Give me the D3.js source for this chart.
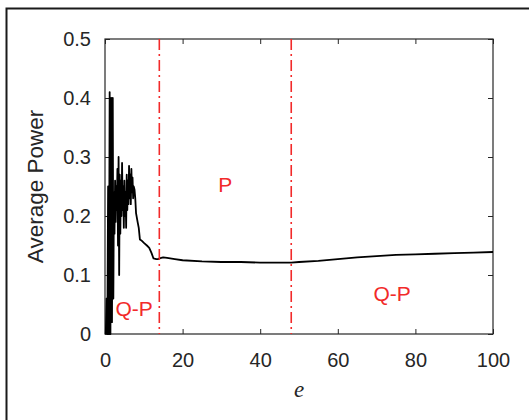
<!DOCTYPE html>
<html>
<head>
<meta charset="utf-8">
<script src="https://cdn.jsdelivr.net/npm/d3@7"></script>
<style>
  html, body { margin: 0; padding: 0; background: #fff; }
  svg { display: block; }
</style>
</head>
<body>
<svg id="chart" width="529" height="420"></svg>
<script>
// ---- data ----
const eValues = [
  0.2, 0.4, 0.6, 0.8, 1.0, 1.2, 1.4, 1.6, 1.8, 2.0, 2.15, 2.3, 2.45, 2.6, 2.75, 2.9, 3.05,
  3.2, 3.35, 3.5, 3.65, 3.8, 3.95, 4.1, 4.25, 4.4, 4.55, 4.7, 4.85, 5.0, 5.15, 5.3, 5.45,
  5.6, 5.75, 5.9, 6.05, 6.2, 6.35, 6.5, 6.65, 6.8, 6.95, 7.1, 7.25, 7.4, 7.6, 7.8,
  8.0, 8.4, 8.7, 9.0, 9.5, 10.1, 10.8, 11.4, 12.0, 12.5, 13.2, 13.8,
  14, 15, 16, 18, 20, 25, 30, 35, 40, 45, 48, 50, 55, 60, 65, 70, 75, 80, 85, 90, 95, 100
];
const powerValues = [
  0.0, 0.06, 0.0, 0.25, 0.0, 0.41, 0.0, 0.40, 0.02, 0.40, 0.06, 0.24, 0.17, 0.26, 0.19, 0.25, 0.21,
  0.28, 0.15, 0.30, 0.10, 0.27, 0.17, 0.26, 0.20, 0.29, 0.21, 0.25, 0.18, 0.26, 0.20, 0.24, 0.18,
  0.27, 0.21, 0.26, 0.22, 0.285, 0.23, 0.27, 0.22, 0.28, 0.24, 0.265, 0.23, 0.25, 0.245, 0.23,
  0.205, 0.19, 0.18, 0.16, 0.158, 0.154, 0.15, 0.146, 0.137, 0.128, 0.127, 0.127,
  0.128, 0.130, 0.129, 0.127, 0.125, 0.123, 0.122, 0.122, 0.121, 0.121, 0.121, 0.122, 0.124,
  0.127, 0.130, 0.132, 0.134, 0.135, 0.136, 0.137, 0.138, 0.139
];
const xTicks = [0, 20, 40, 60, 80, 100];
const yTicks = [0, 0.1, 0.2, 0.3, 0.4, 0.5];
const boundaries = [14, 48];
const regionLabels = [
  { text: "Q-P", e: 7.5, p: 0.04 },
  { text: "P", e: 31, p: 0.25 },
  { text: "Q-P", e: 74, p: 0.065 }
];

// ---- layout ----
const svg = d3.select("#chart");
const margin = { left: 105, top: 39, right: 36, bottom: 86 };
const W = 529, H = 420;
const iw = W - margin.left - margin.right;
const ih = H - margin.top - margin.bottom;

// outer frame
svg.append("rect")
  .attr("x", 6.5).attr("y", 8.5)
  .attr("width", 540).attr("height", 440)
  .attr("fill", "none").attr("stroke", "#1a1a1a").attr("stroke-width", 2);

const g = svg.append("g").attr("transform", `translate(${margin.left},${margin.top})`);

const x = d3.scaleLinear().domain([0, 100]).range([0, iw]);
const y = d3.scaleLinear().domain([0, 0.5]).range([ih, 0]);

const axisColor = "#262626";
const tickFont = "'Liberation Sans', Arial, Helvetica, sans-serif";

// axes with inward ticks
const xAxis = g.append("g").attr("transform", `translate(0,${ih})`)
  .call(d3.axisBottom(x).tickValues(xTicks).tickFormat(d3.format("d"))
    .tickSizeInner(-5).tickSizeOuter(0).tickPadding(19));
const xAxisTop = g.append("g")
  .call(d3.axisTop(x).tickValues(xTicks).tickFormat("")
    .tickSizeInner(-5).tickSizeOuter(0));
const yAxis = g.append("g")
  .call(d3.axisLeft(y).tickValues(yTicks).tickFormat(d => d === 0 ? "0" : d3.format(".1f")(d))
    .tickSizeInner(-5).tickSizeOuter(0).tickPadding(14));
const yAxisRight = g.append("g").attr("transform", `translate(${iw},0)`)
  .call(d3.axisRight(y).tickValues(yTicks).tickFormat("")
    .tickSizeInner(-5).tickSizeOuter(0));

[xAxis, xAxisTop, yAxis, yAxisRight].forEach(a => {
  a.select(".domain").remove();
  a.selectAll(".tick line").attr("stroke", axisColor).attr("stroke-width", 1);
  a.selectAll(".tick text")
    .attr("fill", axisColor)
    .style("font-family", tickFont)
    .style("font-size", "20px");
});

// box
g.append("rect")
  .attr("x", 0).attr("y", 0).attr("width", iw).attr("height", ih)
  .attr("fill", "none").attr("stroke", axisColor).attr("stroke-width", 1.2);

// data line
const data = eValues.map((e, i) => ({ e, p: powerValues[i] }));
const line = d3.line().x(d => x(d.e)).y(d => y(d.p));
g.append("path")
  .datum(data)
  .attr("d", line)
  .attr("fill", "none")
  .attr("stroke", "#000")
  .attr("stroke-width", 1.8)
  .attr("stroke-linejoin", "round");

// boundary lines
const red = "#f22a2a";
g.selectAll(".boundary").data(boundaries).enter().append("line")
  .attr("class", "boundary")
  .attr("x1", d => x(d)).attr("x2", d => x(d))
  .attr("y1", y(0.5)).attr("y2", y(0))
  .attr("stroke", red).attr("stroke-width", 1.6)
  .attr("stroke-dasharray", "11,4,2,4");

// region labels
g.selectAll(".region").data(regionLabels).enter().append("text")
  .attr("class", "region")
  .attr("x", d => x(d.e)).attr("y", d => y(d.p))
  .attr("text-anchor", "middle")
  .attr("dominant-baseline", "middle")
  .attr("fill", red)
  .style("font-family", tickFont)
  .style("font-size", "21px")
  .text(d => d.text);

// axis labels
svg.append("text")
  .attr("transform", `translate(43,${margin.top + ih / 2}) rotate(-90)`)
  .attr("text-anchor", "middle")
  .attr("fill", axisColor)
  .style("font-family", tickFont)
  .style("font-size", "22.5px")
  .text("Average Power");

svg.append("text")
  .attr("x", margin.left + iw / 2).attr("y", 397)
  .attr("text-anchor", "middle")
  .attr("fill", axisColor)
  .style("font-family", "'Liberation Serif', 'Times New Roman', serif")
  .style("font-style", "italic")
  .style("font-size", "23px")
  .text("e");
</script>
</body>
</html>
